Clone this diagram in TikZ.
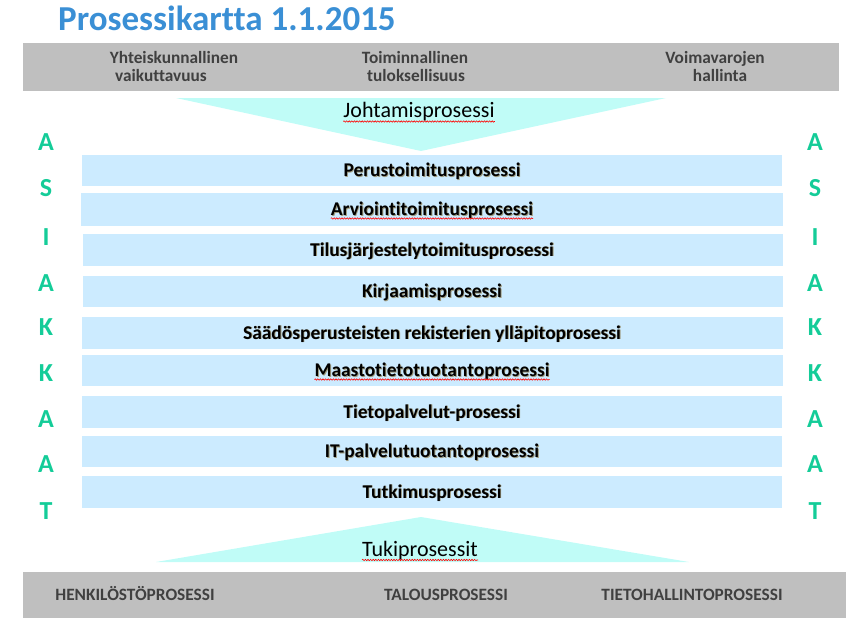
\documentclass[tikz,border=0pt]{standalone}
\usepackage{fontspec}
\setmainfont{Carlito}[RawFeature=-liga]
\usetikzlibrary{decorations.pathmorphing,calc}
\definecolor{titleblue}{HTML}{3A8FD5}
\definecolor{bargray}{HTML}{BFBFBF}
\definecolor{txtgray}{HTML}{404040}
\definecolor{tricyan}{HTML}{C0FCF7}
\definecolor{barblue}{HTML}{CCEBFF}
\definecolor{letgreen}{HTML}{14CC98}
\definecolor{shadowcol}{HTML}{8C7A4A}
\tikzset{
  graybar/.style={fill=bargray,draw=none},
  procbar/.style={fill=barblue,draw=none},
  tri/.style={fill=tricyan,draw=none},
  headtxt/.style={inner sep=0pt,anchor=base,text=txtgray,font=\fontsize{17.3}{19}\selectfont\bfseries},
  proctxt/.style={inner sep=0pt,anchor=base,text=black,font=\fontsize{19.4}{21}\selectfont\bfseries},
  procshadow/.style={proctxt,text=shadowcol,text opacity=0.7},
  tritxt/.style={inner sep=0pt,anchor=base,text=black,font=\fontsize{22}{25}\selectfont},
  letter/.style={inner sep=0pt,anchor=center,text=letgreen,font=\fontsize{26}{28}\selectfont\bfseries},
  spell/.style={draw=red,line width=0.6pt,decorate,decoration={snake,amplitude=0.7pt,segment length=2.6pt}}
}
\begin{document}
\begin{tikzpicture}[x=1pt,y=-1pt]
\useasboundingbox (0,0) rectangle (853,638);
% title
\node[inner sep=0pt,anchor=base west,text=titleblue,font=\fontsize{35}{40}\selectfont\bfseries] (title) at (58,30) {Prosessikartta 1.1.2015};
% top gray bar
\fill[graybar] (23,43) rectangle (839,91);
\node[headtxt] (h1a) at (174,63) {Yhteiskunnallinen};
\node[headtxt] (h1b) at (161,81.5) {vaikuttavuus};
\node[headtxt] (h2a) at (415,63) {Toiminnallinen};
\node[headtxt] (h2b) at (416,81.5) {tuloksellisuus};
\node[headtxt] (h3a) at (715,63) {Voimavarojen};
\node[headtxt] (h3b) at (720,81.5) {hallinta};
% top triangle
\fill[tri] (176,98) -- (666,98) -- (421,151) -- cycle;
\node[tritxt] (johto) at (419,117) {Johtamisprosessi};
\draw[spell] ($(johto.base west)+(0,4.5)$) -- ($(johto.base east)+(0,4.5)$);
% process bars
\foreach \i/\a/\b/\l/\r in {1/155/186/82/782, 2/193/226/81/783, 3/234/266/83/783, 4/276/307/83/783, 5/317/349/82/783, 6/355/386/82/783, 7/396/428/82/782, 8/436/467/82/782, 9/476/508/82/782}{
  \fill[procbar] (\l,\a) rectangle (\r,\b);
}
\foreach \k/\y/\t in {1/176.5/Perustoimitusprosessi, 2/215.5/Arviointitoimitusprosessi, 3/256/Tilusjärjestelytoimitusprosessi, 4/297.5/Kirjaamisprosessi, 5/339/Säädösperusteisten rekisterien ylläpitoprosessi, 6/376.5/Maastotietotuotantoprosessi, 7/418/Tietopalvelut-prosessi, 8/457.5/IT-palvelutuotantoprosessi, 9/498/Tutkimusprosessi}{
  \node[procshadow] (s\k) at (432.9,\y+0.9) {\t};
  \node[proctxt] (p\k) at (432,\y) {\t};
}
\draw[spell] ($(p2.base west)+(0,3)$) -- ($(p2.base east)+(0,3)$);
\draw[spell] ($(p6.base west)+(0,3)$) -- ($(p6.base east)+(0,3)$);
% customer letters
\foreach \t/\y [count=\k] in {A/142,S/188,I/237,A/283,K/327,K/373,A/419,A/464,T/511}{
  \node[letter] (L\k) at (46,\y) {\t};
  \node[letter] (R\k) at (815,\y) {\t};
}
% bottom triangle
\fill[tri] (156,562) -- (689,562) -- (421,517) -- cycle;
\node[tritxt] (tuki) at (420,556.5) {Tukiprosessit};
\draw[spell] ($(tuki.base west)+(0,3.5)$) -- ($(tuki.base east)+(0,3.5)$);
% bottom gray bar
\fill[graybar] (23,572) rectangle (846,618);
\node[headtxt] (b1) at (135,600.5) {HENKILÖSTÖPROSESSI};
\node[headtxt] (b2) at (446,600.5) {TALOUSPROSESSI};
\node[headtxt] (b3) at (692,600.5) {TIETOHALLINTOPROSESSI};
\end{tikzpicture}
\end{document}
